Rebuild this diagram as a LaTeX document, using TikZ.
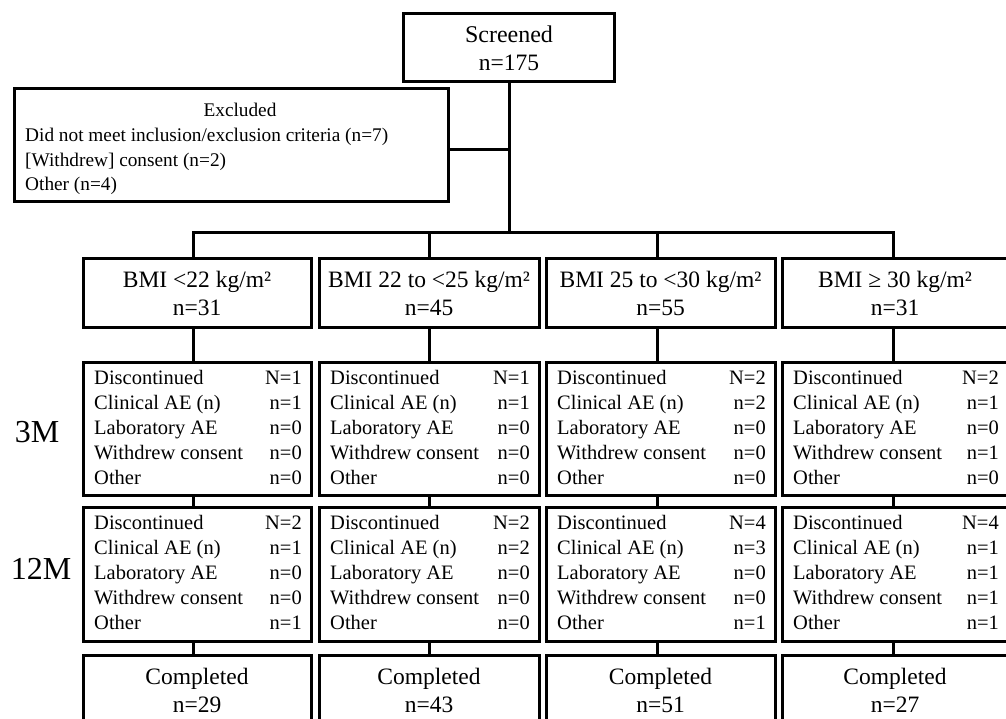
\documentclass[tikz,border=0pt]{standalone}
\usepackage{fontspec}
\setmainfont{Liberation Serif}
\newcommand\drawbox[6]{\node[box, minimum width={#4-#2}, minimum height={#5-#3}] (#1) at ({(#2+#4)/2},{(#3+#5)/2}) {#6};}
\newcommand\rowsin[6]{%
  \node[row, anchor=base west] (#1-l1) at ([xshift=11pt,yshift=-22pt]#1.north west) {Discontinued};
  \node[row, anchor=base west] (#1-l2) at ([xshift=11pt,yshift=-47pt]#1.north west) {Clinical AE (n)};
  \node[row, anchor=base west] (#1-l3) at ([xshift=11pt,yshift=-72pt]#1.north west) {Laboratory AE};
  \node[row, anchor=base west] (#1-l4) at ([xshift=11pt,yshift=-97pt]#1.north west) {Withdrew consent};
  \node[row, anchor=base west] (#1-l5) at ([xshift=11pt,yshift=-122pt]#1.north west) {Other};
  \node[row, anchor=base east] (#1-v1) at ([xshift=-9pt,yshift=-22pt]#1.north east) {#2};
  \node[row, anchor=base east] (#1-v2) at ([xshift=-9pt,yshift=-47pt]#1.north east) {#3};
  \node[row, anchor=base east] (#1-v3) at ([xshift=-9pt,yshift=-72pt]#1.north east) {#4};
  \node[row, anchor=base east] (#1-v4) at ([xshift=-9pt,yshift=-97pt]#1.north east) {#5};
  \node[row, anchor=base east] (#1-v5) at ([xshift=-9pt,yshift=-122pt]#1.north east) {#6};
}
\begin{document}
\begin{tikzpicture}[x=1pt,y=-1pt,
  box/.style={draw=black, line width=3pt, inner sep=0pt, outer sep=0pt, align=center,
              font=\fontsize{23.5}{28}\selectfont},
  conn/.style={draw=black, line width=3pt, line join=miter},
  row/.style={font=\fontsize{20.5}{25}\selectfont, inner sep=0pt},
  exc/.style={font=\fontsize{19.3}{24.5}\selectfont, inner sep=0pt},
  lab/.style={font=\fontsize{32}{38}\selectfont, inner sep=0pt}]
\useasboundingbox (0,0) rectangle (1006,719);
\clip (0,0) rectangle (1006,719);

% top
\drawbox{scr}{403.5}{14}{614.5}{82}{\fontsize{24}{28}\selectfont Screened\\n=175}
\drawbox{excl}{14}{89}{448}{202}{}
\node[exc, anchor=base] (excl-t) at (240,117) {Excluded};
\node[exc, anchor=base west] (excl-a) at (25,142) {Did not meet inclusion/exclusion criteria (n=7)};
\node[exc, anchor=base west] (excl-b) at (25,167) {[Withdrew] consent (n=2)};
\node[exc, anchor=base west] (excl-c) at (25,191) {Other (n=4)};

% BMI boxes
\drawbox{bmi1}{83}{259}{311}{327}{BMI <22 kg/m²\\n=31}
\drawbox{bmi2}{319}{259}{539}{327}{BMI 22 to <25 kg/m²\\n=45}
\drawbox{bmi3}{546}{259}{775}{327}{BMI 25 to <30 kg/m²\\n=55}
\drawbox{bmi4}{782}{259}{1008}{327}{BMI ≥ 30 kg/m²\\n=31}

% 3M boxes
\drawbox{ma1}{83}{362}{311}{495}{}
\drawbox{ma2}{319}{362}{539}{495}{}
\drawbox{ma3}{546}{362}{775}{495}{}
\drawbox{ma4}{782}{362}{1008}{495}{}
\rowsin{ma1}{N=1}{n=1}{n=0}{n=0}{n=0}
\rowsin{ma2}{N=1}{n=1}{n=0}{n=0}{n=0}
\rowsin{ma3}{N=2}{n=2}{n=0}{n=0}{n=0}
\rowsin{ma4}{N=2}{n=1}{n=0}{n=1}{n=0}

% 12M boxes
\drawbox{mb1}{83}{507}{311}{641}{}
\drawbox{mb2}{319}{507}{539}{641}{}
\drawbox{mb3}{546}{507}{775}{641}{}
\drawbox{mb4}{782}{507}{1008}{641}{}
\rowsin{mb1}{N=2}{n=1}{n=0}{n=0}{n=1}
\rowsin{mb2}{N=2}{n=2}{n=0}{n=0}{n=0}
\rowsin{mb3}{N=4}{n=3}{n=0}{n=0}{n=1}
\rowsin{mb4}{N=4}{n=1}{n=1}{n=1}{n=1}

% Completed boxes
\drawbox{c1}{83}{655}{311}{725}{Completed\\n=29}
\drawbox{c2}{319}{655}{539}{725}{Completed\\n=43}
\drawbox{c3}{546}{655}{775}{725}{Completed\\n=51}
\drawbox{c4}{782}{655}{1008}{725}{Completed\\n=27}

% side labels
\node[lab] (l3m) at (37,432) {3M};
\node[lab] (l12m) at (41,569) {12M};

% connectors
\coordinate (d1) at (193,233);
\coordinate (d2) at (429,233);
\coordinate (d3) at (657,233);
\coordinate (d4) at (893,233);
\coordinate (junc) at (509,150);
\draw[conn] (scr.south) -- (scr.south |- d1);
\draw[conn] (excl.east |- junc) -- (junc);
\draw[conn] (d1 |- bmi1.north) -- (d1) -- (d4) -- (d4 |- bmi4.north);
\draw[conn] (d2) -- (d2 |- bmi2.north);
\draw[conn] (d3) -- (d3 |- bmi3.north);
\foreach \i in {1,2,3,4}{
  \draw[conn] (bmi\i.south -| d\i) -- (ma\i.north -| d\i);
  \draw[conn] (ma\i.south -| d\i) -- (mb\i.north -| d\i);
  \draw[conn] (mb\i.south -| d\i) -- (c\i.north -| d\i);
}
\end{tikzpicture}
\end{document}
